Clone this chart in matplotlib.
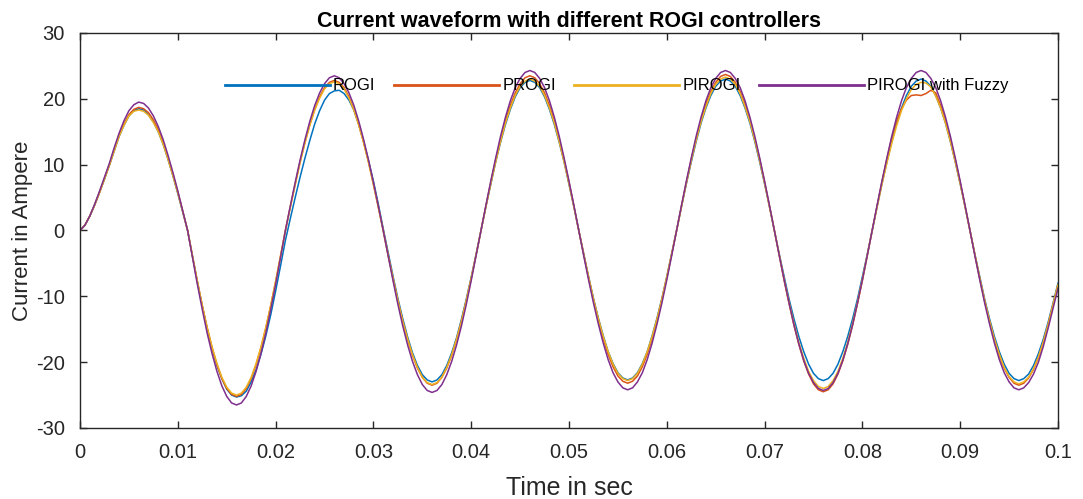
import numpy as np
import matplotlib
matplotlib.use('Agg')
import matplotlib.pyplot as plt

plt.rcParams['font.family'] = ['Liberation Sans', 'DejaVu Sans']
plt.rcParams['axes.unicode_minus'] = False

# time axis, 0.5 ms steps from 0 to 0.1 s
t = np.arange(201) * 0.0005

# values (A), one line per half cycle
rogi = [0, 0.8, 2.2, 3.9, 5.8, 7.8, 9.9, 12.1, 14.3, 16.0, 17.4, 18.2, 18.5, 18.3, 17.6, 16.5, 15.0, 13.1, 10.8, 8.3, 5.6, 2.8,
        0, -3.9, -7.8, -11.5, -14.9, -17.9, -20.5, -22.5, -24.1, -25.0, -25.3, -25.1, -24.4, -23.0, -21.2, -18.8, -16.0, -12.8, -9.2, -5.4,
        -1.5, 1.8, 5.0, 8.1, 11.0, 13.7, 16.2, 18.2, 19.8, 20.8, 21.2, 21.3, 20.8, 19.8, 18.3, 16.1, 13.5, 10.6, 7.5, 4.0,
        0.3, -3.3, -6.9, -10.3, -13.4, -16.2, -18.6, -20.5, -21.9, -22.7, -23.0, -22.7, -21.9, -20.5, -18.6, -16.3, -13.5, -10.4, -7.1, -3.6,
        0, 3.6, 7.0, 10.4, 13.4, 16.1, 18.4, 20.3, 21.7, 22.5, 22.8, 22.5, 21.7, 20.3, 18.4, 16.1, 13.4, 10.4, 7.0, 3.6,
        0, -3.5, -7.0, -10.3, -13.3, -16.0, -18.4, -20.2, -21.6, -22.4, -22.7, -22.4, -21.6, -20.2, -18.4, -16.0, -13.3, -10.3, -7.0, -3.5,
        0, 3.6, 7.1, 10.4, 13.5, 16.3, 18.6, 20.5, 21.9, 22.7, 23.0, 22.7, 21.9, 20.5, 18.6, 16.3, 13.5, 10.4, 7.1, 3.6,
        0, -3.6, -7.0, -10.4, -13.4, -16.1, -18.4, -20.3, -21.7, -22.5, -22.8, -22.5, -21.7, -20.3, -18.4, -16.1, -13.4, -10.4, -7.0, -3.6,
        0, 3.6, 7.1, 10.4, 13.5, 16.3, 18.6, 20.5, 21.9, 22.7, 23.0, 22.7, 21.9, 20.5, 18.6, 16.3, 13.5, 10.4, 7.1, 3.6,
        0, -3.6, -7.0, -10.4, -13.4, -16.1, -18.4, -20.3, -21.7, -22.5, -22.8, -22.5, -21.8, -20.5, -18.7, -16.5, -13.9, -11.0, -8.0]

progi = [0, 0.8, 2.2, 3.9, 5.8, 7.9, 10.0, 12.3, 14.5, 16.2, 17.6, 18.4, 18.7, 18.5, 17.9, 16.8, 15.3, 13.3, 11.0, 8.5, 5.8, 2.9,
         0, -3.9, -7.8, -11.4, -14.8, -17.8, -20.4, -22.5, -24.0, -24.9, -25.2, -24.9, -24.0, -22.5, -20.4, -17.8, -14.8, -11.4, -7.8, -3.9,
         0, 3.6, 7.0, 10.4, 13.4, 16.1, 18.4, 20.3, 21.7, 22.5, 22.8, 22.5, 21.7, 20.3, 18.4, 16.1, 13.4, 10.4, 7.0, 3.6,
         0, -3.7, -7.3, -10.7, -13.8, -16.6, -19.0, -20.9, -22.3, -23.2, -23.5, -23.2, -22.3, -20.9, -19.0, -16.6, -13.8, -10.7, -7.3, -3.7,
         0, 3.7, 7.3, 10.7, 13.8, 16.6, 19.0, 20.9, 22.3, 23.2, 23.5, 23.2, 22.3, 20.9, 19.0, 16.6, 13.8, 10.7, 7.3, 3.7,
         0, -3.6, -7.2, -10.5, -13.6, -16.4, -18.8, -20.7, -22.1, -22.9, -23.2, -22.9, -22.1, -20.7, -18.8, -16.4, -13.6, -10.5, -7.2, -3.6,
         0, 3.7, 7.3, 10.8, 13.9, 16.8, 19.2, 21.1, 22.5, 23.4, 23.7, 23.4, 22.5, 21.1, 19.2, 16.8, 13.9, 10.8, 7.3, 3.7,
         0, -3.8, -7.6, -11.1, -14.4, -17.3, -19.8, -21.8, -23.3, -24.2, -24.5, -24.2, -23.3, -21.8, -19.8, -17.3, -14.4, -11.1, -7.6, -3.8,
         0, 3.7, 7.4, 10.8, 14.0, 16.6, 18.5, 19.8, 20.5, 20.6, 20.5, 20.8, 21.3, 20.9, 19.0, 16.6, 13.8, 10.7, 7.3, 3.7,
         0, -3.7, -7.3, -10.7, -13.8, -16.6, -19.0, -20.9, -22.3, -23.2, -23.5, -23.2, -22.4, -21.1, -19.3, -17.0, -14.3, -11.3, -8.3]

pirogi = [0, 0.8, 2.2, 3.9, 5.8, 7.8, 9.9, 12.1, 14.3, 16.0, 17.4, 18.1, 18.3, 18.1, 17.5, 16.4, 15.0, 13.1, 10.8, 8.3, 5.7, 2.9,
          0, -3.9, -7.7, -11.4, -14.7, -17.7, -20.2, -22.3, -23.8, -24.7, -25.0, -24.7, -23.8, -22.3, -20.2, -17.7, -14.7, -11.4, -7.7, -3.9,
          0, 3.5, 7.0, 10.3, 13.3, 16.0, 18.3, 20.1, 21.5, 22.3, 22.6, 22.3, 21.5, 20.1, 18.3, 16.0, 13.3, 10.3, 7.0, 3.5,
          0, -3.7, -7.2, -10.6, -13.8, -16.5, -18.9, -20.8, -22.3, -23.1, -23.4, -23.1, -22.3, -20.8, -18.9, -16.5, -13.8, -10.6, -7.2, -3.7,
          0, 3.6, 7.1, 10.4, 13.5, 16.3, 18.6, 20.5, 21.9, 22.7, 23.0, 22.7, 21.9, 20.5, 18.6, 16.3, 13.5, 10.4, 7.1, 3.6,
          0, -3.6, -7.0, -10.4, -13.4, -16.1, -18.4, -20.3, -21.7, -22.5, -22.8, -22.5, -21.7, -20.3, -18.4, -16.1, -13.4, -10.4, -7.0, -3.6,
          0, 3.6, 7.2, 10.6, 13.7, 16.5, 18.8, 20.8, 22.2, 23.0, 23.3, 23.0, 22.2, 20.8, 18.8, 16.5, 13.7, 10.6, 7.2, 3.6,
          0, -3.7, -7.4, -10.9, -14.1, -17.0, -19.4, -21.4, -22.8, -23.7, -24.0, -23.7, -22.8, -21.4, -19.4, -17.0, -14.1, -10.9, -7.4, -3.7,
          0, 3.5, 7.0, 10.2, 13.2, 15.9, 18.2, 20.0, 21.4, 22.2, 22.5, 22.4, 21.8, 20.4, 18.6, 16.3, 13.5, 10.4, 7.1, 3.6,
          0, -3.6, -7.2, -10.6, -13.7, -16.5, -18.8, -20.8, -22.2, -23.0, -23.3, -23.0, -22.3, -21.0, -19.2, -16.9, -14.2, -11.2, -8.2]

fuzzy = [0, 0.8, 2.2, 4.0, 6.0, 8.1, 10.2, 12.6, 14.8, 16.7, 18.2, 19.1, 19.5, 19.3, 18.6, 17.4, 15.8, 13.8, 11.4, 8.8, 6.0, 3.0,
         0, -4.1, -8.2, -12.0, -15.6, -18.7, -21.4, -23.6, -25.2, -26.2, -26.5, -26.2, -25.2, -23.6, -21.4, -18.7, -15.6, -12.0, -8.2, -4.1,
         0, 3.7, 7.3, 10.7, 13.8, 16.6, 19.0, 20.9, 22.3, 23.2, 23.5, 23.2, 22.3, 20.9, 19.0, 16.6, 13.8, 10.7, 7.3, 3.7,
         0, -3.8, -7.6, -11.2, -14.5, -17.4, -19.9, -21.9, -23.4, -24.3, -24.6, -24.3, -23.4, -21.9, -19.9, -17.4, -14.5, -11.2, -7.6, -3.8,
         0, 3.8, 7.5, 11.0, 14.3, 17.2, 19.7, 21.7, 23.1, 24.0, 24.3, 24.0, 23.1, 21.7, 19.7, 17.2, 14.3, 11.0, 7.5, 3.8,
         0, -3.8, -7.5, -11.0, -14.2, -17.1, -19.6, -21.6, -23.0, -23.9, -24.2, -23.9, -23.0, -21.6, -19.6, -17.1, -14.2, -11.0, -7.5, -3.8,
         0, 3.8, 7.5, 11.0, 14.3, 17.2, 19.7, 21.7, 23.1, 24.0, 24.3, 24.0, 23.1, 21.7, 19.7, 17.2, 14.3, 11.0, 7.5, 3.8,
         0, -3.8, -7.5, -11.0, -14.3, -17.2, -19.7, -21.7, -23.1, -24.0, -24.3, -24.0, -23.1, -21.7, -19.7, -17.2, -14.3, -11.0, -7.5, -3.8,
         0, 3.8, 7.5, 11.0, 14.3, 17.2, 19.7, 21.7, 23.1, 24.0, 24.3, 24.0, 23.1, 21.7, 19.7, 17.2, 14.3, 11.0, 7.5, 3.8,
         0, -3.8, -7.5, -11.0, -14.2, -17.1, -19.6, -21.6, -23.0, -23.9, -24.2, -23.9, -23.1, -21.8, -20.0, -17.6, -14.8, -11.8, -8.8]

labels = ['ROGI', 'PROGI', 'PIROGI', 'PIROGI with Fuzzy']
colors = ['#0072BD', '#D95319', '#EDB120', '#7E2F8E']
xticks = [0, 0.01, 0.02, 0.03, 0.04, 0.05, 0.06, 0.07, 0.08, 0.09, 0.1]
xticklabels = ['0', '0.01', '0.02', '0.03', '0.04', '0.05', '0.06', '0.07', '0.08', '0.09', '0.1']
yticks = [-30, -20, -10, 0, 10, 20, 30]

fig = plt.figure(figsize=(10.83, 4.99), dpi=100)
ax = fig.add_axes([0.0739, 0.1423, 0.9030, 0.7916])

for y, lab, c in zip([rogi, progi, pirogi, fuzzy], labels, colors):
    ax.plot(t, y, color=c, linewidth=1.1, label=lab)

ax.set_xlim(0, 0.1)
ax.set_ylim(-30, 30)
ax.set_xticks(xticks)
ax.set_xticklabels(xticklabels)
ax.set_yticks(yticks)
ax.tick_params(direction='in', top=True, right=True, length=5, width=1,
               labelsize=14.5, colors='#262626')
ax.tick_params(axis='x', pad=11)
ax.tick_params(axis='y', pad=11)
for s in ax.spines.values():
    s.set_color('#262626')
    s.set_linewidth(1)

ax.set_title('Current waveform with different ROGI controllers', fontsize=15.5,
             fontweight='bold', pad=4)
ax.set_xlabel('Time in sec', fontsize=18, color='#262626', labelpad=10)
ax.set_ylabel('Current in Ampere', fontsize=16, color='#262626', labelpad=2)

leg = ax.legend(loc='center left', bbox_to_anchor=(0.148, 0.866), ncol=4,
                frameon=False, fontsize=12, handlelength=6.3, handletextpad=0.2,
                columnspacing=1.1, borderpad=0, borderaxespad=0)
for line in leg.get_lines():
    line.set_linewidth(2)

fig.savefig('out.png', dpi=100)
